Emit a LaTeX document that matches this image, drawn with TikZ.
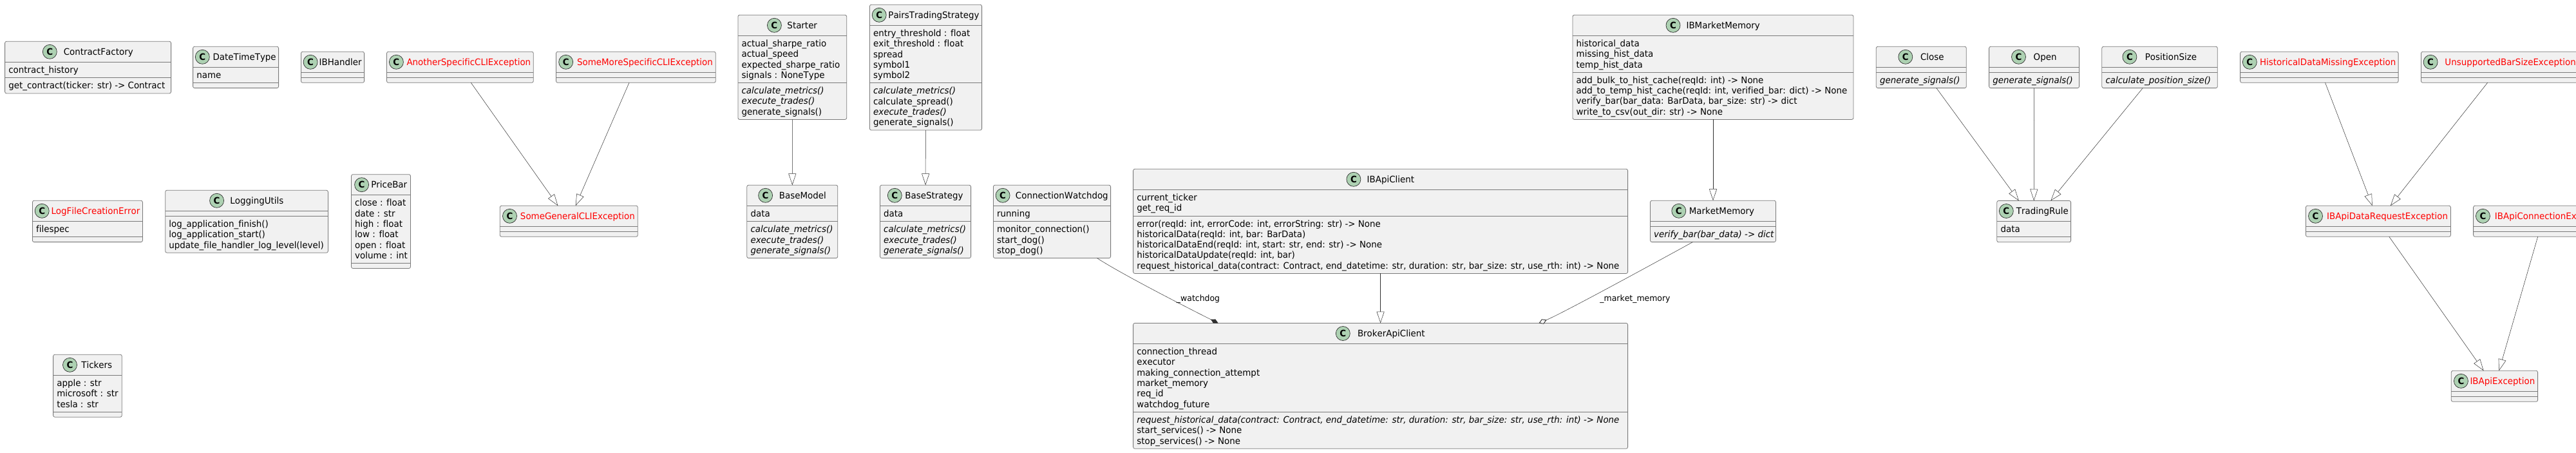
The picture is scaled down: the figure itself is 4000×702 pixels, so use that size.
\documentclass[tikz,border=0pt]{standalone}
\usepackage{fontspec}
\usetikzlibrary{arrows.meta}
\setmainfont{DejaVu Sans}[Ligatures=NoCommon,Kerning=Off,FakeStretch=0.958]

\definecolor{classfill}{HTML}{F1F1F1}
\definecolor{classstroke}{HTML}{7A7A7A}
\definecolor{edgestroke}{HTML}{303030}
\definecolor{markfill}{HTML}{ADD1B2}

\tikzset{
    classnode/.style={draw=classstroke,fill=classfill,line width=0.8pt,rounded corners=2.5pt,
        inner sep=0pt,outer sep=0pt,anchor=north west},
    classsep/.style={draw=classstroke,line width=0.8pt},
    classmark/.style={circle,draw=edgestroke,fill=markfill,line width=0.7pt,inner sep=0pt,
        minimum size=22pt,font=\fontsize{14}{16.3}\selectfont\bfseries},
    classtext/.style={inner sep=0pt,font=\fontsize{14}{16.3}\selectfont},
    classrows/.style={classtext,align=left,anchor=north west},
    edgelabel/.style={inner sep=0pt,font=\fontsize{13}{15}\selectfont},
    edgeline/.style={draw=edgestroke,line width=0.5pt},
    extends/.style={edgeline,-{Triangle[length=18pt,width=12pt,fill=white]}},
    owns/.style={edgeline,-{Diamond[length=13pt,width=7pt,fill=edgestroke]}},
    holds/.style={edgeline,-{Diamond[length=13pt,width=8pt,fill=white,line width=0.9pt]}}
}

% [title colour]{name}{left/right/top/circle centre/attribute rows/method rows}{attributes}{methods}
\newcommand{\classbox}[5][black]{%
    \foreach \xa/\xb/\yt/\cx/\na/\nm in {#3}{%
        \pgfmathsetmacro{\ya}{40+16.3*\na}
        \pgfmathsetmacro{\hh}{\ya+8+16.3*\nm}
        \pgfmathsetmacro{\ww}{\xb-\xa}
        \node[classnode,minimum width=\ww pt,minimum height=\hh pt] (#2) at (\xa,\yt) {};
        \draw[classsep] ([yshift=-32pt]#2.north west) -- ([yshift=-32pt]#2.north east);
        \draw[classsep] ([yshift=-\ya pt]#2.north west) -- ([yshift=-\ya pt]#2.north east);
        \node[classmark] (#2Mark) at (\cx,{\yt+16}) {C};
        \node[classtext,text=#1,anchor=base east] (#2Title) at ({\xb-(\cx-11-\xa)},{\yt+20.8}) {#2};
        \ifnum\na>0
            \node[classrows] (#2Attrs) at ({\xa+5.5},{\yt+37.5}) {\strut #4};
        \fi
        \ifnum\nm>0
            \node[classrows] (#2Methods) at ({\xa+5.5},{\yt+\ya+5.5}) {\strut #5};
        \fi
    }%
}

\begin{document}
\begin{tikzpicture}[x=1pt,y=-1pt]
    \useasboundingbox (0,0) rectangle (4000,702);
    \clip (0,0) rectangle (4000,702);

    % Loose classes
    \classbox{ContractFactory}{7.6/265.6/64.3/77.3/1/1}{contract\_history}{get\_contract(ticker: str) -> Contract}
    \classbox{DateTimeType}{299.6/432.6/72.3/314.3/1/0}{name}{}
    \classbox{IBHandler}{467.4/565.6/80.3/482.1/0/0}{}{}
    \classbox[red]{LogFileCreationError}{50.4/221.4/311.3/65.2/1/0}{filespec}{}
    \classbox{LoggingUtils}{256.7/509.4/295.3/336.6/0/3}{}{log\_application\_finish()\\log\_application\_start()\\update\_file\_handler\_log\_level(level)}
    \classbox{PriceBar}{545.5/637.5/270.7/561.6/6/0}{close : float\\date : str\\high : float\\low : float\\open : float\\volume : int}{}
    \classbox{Tickers}{82.6/189.3/550.3/108.5/3/0}{apple : str\\microsoft : str\\tesla : str}{}

    % CLI exceptions
    \classbox[red]{AnotherSpecificCLIException}{600.5/828.3/80.3/615.4/0/0}{}{}
    \classbox[red]{SomeMoreSpecificCLIException}{863.5/1111.3/80.3/878.7/0/0}{}{}
    \classbox[red]{SomeGeneralCLIException}{776.3/990.3/319.3/791.5/0/0}{}{}

    % Models and strategies
    \classbox{Starter}{1145.9/1314.7/23.3/1202.4/4/3}{actual\_sharpe\_ratio\\actual\_speed\\expected\_sharpe\_ratio\\signals : NoneType}{\textit{calculate\_metrics()}\\\textit{execute\_trades()}\\generate\_signals()}
    \classbox{PairsTradingStrategy}{1350.4/1524.6/7.3/1365.2/5/4}{entry\_threshold : float\\exit\_threshold : float\\spread\\symbol1\\symbol2}{\textit{calculate\_metrics()}\\calculate\_spread()\\\textit{execute\_trades()}\\generate\_signals()}
    \classbox{BaseModel}{1159.8/1300.8/287.3/1188.6/1/3}{data}{\textit{calculate\_metrics()}\\\textit{execute\_trades()}\\\textit{generate\_signals()}}
    \classbox{BaseStrategy}{1366.5/1507.6/287.3/1389.3/1/3}{data}{\textit{calculate\_metrics()}\\\textit{execute\_trades()}\\\textit{generate\_signals()}}

    % Broker clients
    \classbox{ConnectionWatchdog}{1542.4/1724.6/287.3/1557.1/1/3}{running}{monitor\_connection()\\start\_dog()\\stop\_dog()}
    \classbox{IBApiClient}{1759.6/2527.6/262.3/2101.9/2/5}{current\_ticker\\get\_req\_id}{error(reqId: int, errorCode: int, errorString: str) -> None\\historicalData(reqId: int, bar: BarData)\\historicalDataEnd(reqId: int, start: str, end: str) -> None\\historicalDataUpdate(reqId: int, bar)\\request\_historical\_data(contract: Contract, end\_datetime: str, duration: str, bar\_size: str, use\_rth: int) -> None}
    \classbox{BrokerApiClient}{1759.6/2527.6/501.5/2085.3/6/3}{connection\_thread\\executor\\making\_connection\_attempt\\market\_memory\\req\_id\\watchdog\_future}{\textit{request\_historical\_data(contract: Contract, end\_datetime: str, duration: str, bar\_size: str, use\_rth: int) -> None}\\start\_services() -> None\\stop\_services() -> None}

    % Market memory
    \classbox{IBMarketMemory}{2442/2878/23.3/2598/3/4}{historical\_data\\missing\_hist\_data\\temp\_hist\_data}{add\_bulk\_to\_hist\_cache(reqId: int) -> None\\add\_to\_temp\_hist\_cache(reqId: int, verified\_bar: dict) -> None\\verify\_bar(bar\_data: BarData, bar\_size: str) -> dict\\write\_to\_csv(out\_dir: str) -> None}
    \classbox{MarketMemory}{2562.5/2757.5/311.3/2606.8/0/1}{}{\textit{verify\_bar(bar\_data) -> dict}}

    % Trading rules
    \classbox{Close}{2913.3/3053.3/72.3/2958.8/0/1}{}{\textit{generate\_signals()}}
    \classbox{Open}{3088.6/3228.6/72.3/3134.5/0/1}{}{\textit{generate\_signals()}}
    \classbox{PositionSize}{3263.8/3443.3/72.3/3306.9/0/1}{}{\textit{calculate\_position\_size()}}
    \classbox{TradingRule}{3100.8/3215.6/311.5/3115.3/1/0}{data}{}

    % IB exceptions
    \classbox[red]{HistoricalDataMissingException}{3478.6/3724.1/80.3/3493.3/0/0}{}{}
    \classbox[red]{UnsupportedBarSizeException}{3759.4/4003.6/80.3/3774.1/0/0}{}{}
    \classbox[red]{IBApiDataRequestException}{3580.4/3805.4/319.3/3595.5/0/0}{}{}
    \classbox[red]{IBApiConnectionException}{3840.6/4054.6/319.3/3855.4/0/0}{}{}
    \classbox[red]{IBApiException}{3806.3/3940.6/575.3/3821.4/0/0}{}{}

    % Inheritance
    \draw[extends] (AnotherSpecificCLIException) -- (SomeGeneralCLIException);
    \draw[extends] (SomeMoreSpecificCLIException) -- (SomeGeneralCLIException);
    \draw[extends] (Starter) -- (BaseModel);
    \draw[extends] (PairsTradingStrategy) -- (BaseStrategy);
    \draw[extends] (IBApiClient) -- (BrokerApiClient);
    \draw[extends] (IBMarketMemory) -- (MarketMemory);
    \draw[extends] (Close) -- (TradingRule);
    \draw[extends] (Open) -- (TradingRule);
    \draw[extends] (PositionSize) -- (TradingRule);
    \draw[extends] (HistoricalDataMissingException) -- (IBApiDataRequestException);
    \draw[extends] (UnsupportedBarSizeException) -- (IBApiDataRequestException);
    \draw[extends] (IBApiDataRequestException) -- (IBApiException);
    \draw[extends] (IBApiConnectionException) -- (IBApiException);

    % Composition and aggregation
    \draw[owns] ([xshift=161pt]ConnectionWatchdog.south west) .. controls +(40,26) and +(-40,-20) .. ([xshift=132pt]BrokerApiClient.north west);
    \draw[holds] ([xshift=66pt]MarketMemory.south west) .. controls +(-40,22) and +(40,-17) .. ([xshift=630pt]BrokerApiClient.north west);
    \node[edgelabel] (watchdogLabel) at (1860.5,464) {\_watchdog};
    \node[edgelabel] (memoryLabel) at (2539,464) {\_market\_memory};

\end{tikzpicture}
\end{document}
